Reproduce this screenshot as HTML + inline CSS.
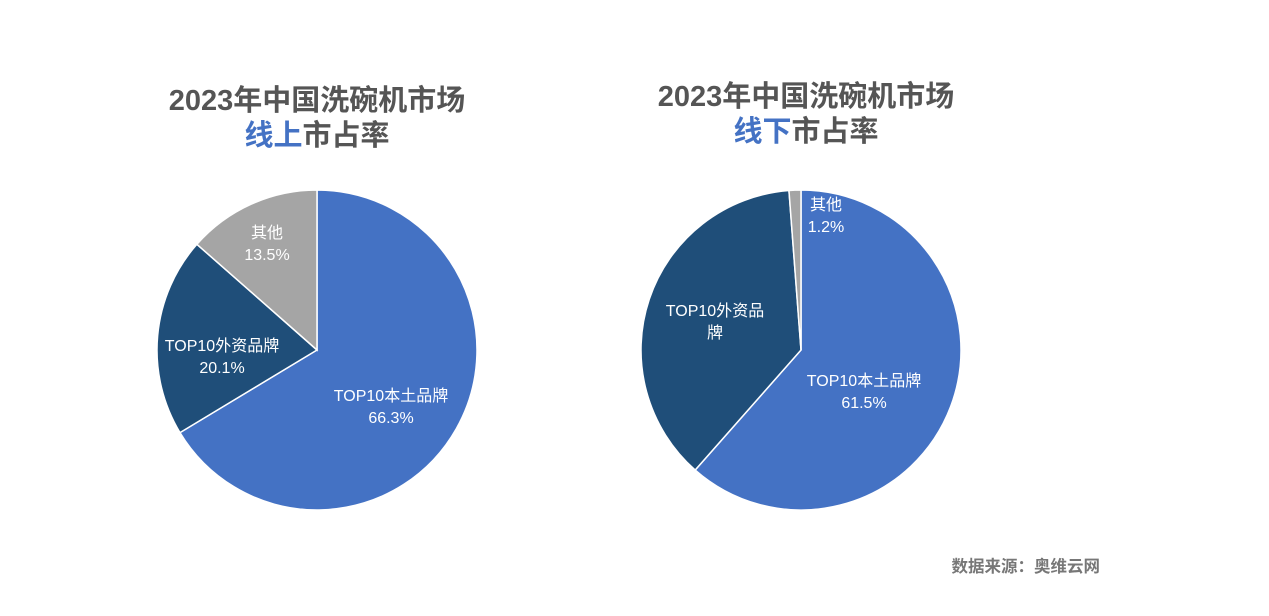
<!DOCTYPE html>
<html><head><meta charset="utf-8">
<style>
html,body{margin:0;padding:0;background:#fff;}
body{width:1269px;height:611px;overflow:hidden;font-family:"Liberation Sans","Noto Sans CJK SC",sans-serif;}
svg text{font-family:"Liberation Sans","Noto Sans CJK SC",sans-serif;}
</style></head>
<body>
<svg id="chart" width="1269" height="611">
  <g>
    <text x="317" y="110" text-anchor="middle" font-size="29" font-weight="bold" fill="#555">2023年中国洗碗机市场</text>
    <text x="317" y="145" text-anchor="middle" font-size="29" font-weight="bold" fill="#555"><tspan fill="#4472C4">线上</tspan>市占率</text>
  </g>
  <g>
    <text x="806" y="106" text-anchor="middle" font-size="29" font-weight="bold" fill="#555">2023年中国洗碗机市场</text>
    <text x="806" y="141" text-anchor="middle" font-size="29" font-weight="bold" fill="#555"><tspan fill="#4472C4">线下</tspan>市占率</text>
  </g>
  <g id="pies"></g>
  <text x="1100" y="572" text-anchor="end" font-size="16.5" font-weight="bold" fill="#777">数据来源：奥维云网</text>
</svg>
<script>
const categories = ["TOP10本土品牌", "TOP10外资品牌", "其他"];
const onlineValues = [66.3, 20.1, 13.5];
const offlineValues = [61.5, 37.3, 1.2];
const onlineLabels = ["66.3%", "20.1%", "13.5%"];
const offlineLabels = ["61.5%", "", "1.2%"];
const colors = ["#4472C4", "#1F4E79", "#A5A5A5"];

const NS = "http://www.w3.org/2000/svg";
const root = document.getElementById("pies");

function pt(cx, cy, r, a) {
  return [cx + r * Math.sin(a), cy - r * Math.cos(a)];
}

function drawPie(name, cx, cy, r, values, labels, labelPos, catLines) {
  const g = document.createElementNS(NS, "g");
  
  
  root.appendChild(g);
  const total = values.reduce((a, b) => a + b, 0);
  let start = 0;
  values.forEach((v, i) => {
    const end = start + v / total * Math.PI * 2;
    const [x1, y1] = pt(cx, cy, r, start);
    const [x2, y2] = pt(cx, cy, r, end);
    const large = end - start > Math.PI ? 1 : 0;
    const p = document.createElementNS(NS, "path");
    p.setAttribute("d", `M${cx},${cy} L${x1},${y1} A${r},${r} 0 ${large} 1 ${x2},${y2} Z`);
    p.setAttribute("fill", colors[i]);
    p.setAttribute("stroke", "#fff");
    p.setAttribute("stroke-width", "1.5");
    
    
    g.appendChild(p);
    start = end;
  });
  values.forEach((v, i) => {
    const [lx, ly] = labelPos[i];
    const lines = catLines[i].concat(labels[i] ? [labels[i]] : []);
    lines.forEach((s, k) => {
      const t = document.createElementNS(NS, "text");
      t.setAttribute("x", lx);
      t.setAttribute("y", ly + k * 22);
      t.setAttribute("text-anchor", "middle");
      t.setAttribute("font-size", "16");
      t.setAttribute("fill", "#fff");
      
      
      t.textContent = s;
      g.appendChild(t);
    });
  });
}

drawPie("online-pie", 317, 350, 160, onlineValues, onlineLabels,
  [[391, 401], [222, 351], [267, 238]],
  [["TOP10本土品牌"], ["TOP10外资品牌"], ["其他"]]);
drawPie("offline-pie", 801, 350, 160, offlineValues, offlineLabels,
  [[864, 386], [715, 316], [826, 210]],
  [["TOP10本土品牌"], ["TOP10外资品", "牌"], ["其他"]]);
</script>
</body></html>
